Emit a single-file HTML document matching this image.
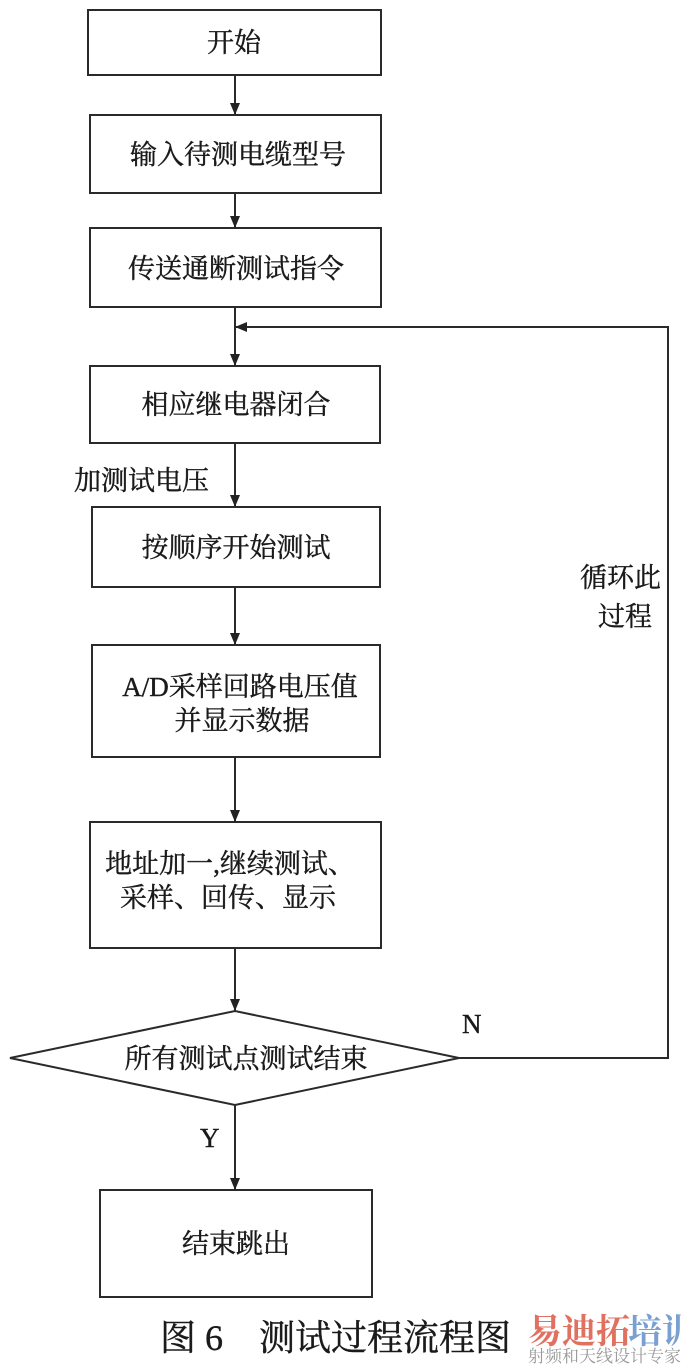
<!DOCTYPE html>
<html><head><meta charset="utf-8"><style>
html,body{margin:0;padding:0;background:#fff;}
svg{display:block}
text{font-family:"Liberation Serif","Noto Serif CJK SC","Noto Sans CJK SC",serif;fill:#1a1a1a;stroke:#1a1a1a;stroke-width:0.4;}
</style></head><body>
<svg width="681" height="1364" viewBox="0 0 681 1364" xmlns="http://www.w3.org/2000/svg">
<defs><marker id="a" markerWidth="12" markerHeight="10" refX="12" refY="5" orient="auto" markerUnits="userSpaceOnUse"><path d="M0,0 L12,5 L0,10 Z" fill="#222" stroke="none"/></marker></defs>
<g fill="none" stroke="#2a2a2a" stroke-width="2">
<rect x="88" y="10" width="293" height="65"/>
<rect x="90" y="115" width="291" height="78"/>
<rect x="90" y="228" width="291" height="79"/>
<rect x="90" y="366" width="290" height="77"/>
<rect x="92" y="507" width="288" height="80"/>
<rect x="92" y="645" width="288" height="112"/>
<rect x="90" y="822" width="291" height="126"/>
<polygon points="10,1058 235,1011 459,1058 235,1105"/>
<rect x="100" y="1190" width="272" height="107"/>
<line x1="235" y1="75" x2="235" y2="115" marker-end="url(#a)"/>
<line x1="235" y1="193" x2="235" y2="228" marker-end="url(#a)"/>
<line x1="235" y1="307" x2="235" y2="366" marker-end="url(#a)"/>
<line x1="235" y1="443" x2="235" y2="507" marker-end="url(#a)"/>
<line x1="235" y1="587" x2="235" y2="645" marker-end="url(#a)"/>
<line x1="235" y1="757" x2="235" y2="822" marker-end="url(#a)"/>
<line x1="235" y1="948" x2="235" y2="1011" marker-end="url(#a)"/>
<line x1="235" y1="1105" x2="235" y2="1190" marker-end="url(#a)"/>
<polyline points="459,1058 668,1058 668,327 235,327" marker-end="url(#a)"/>
</g>
<g font-size="27" text-anchor="middle">
<text x="234" y="52">开始</text>
<text x="238" y="164">输入待测电缆型号</text>
<text x="236" y="278">传送通断测试指令</text>
<text x="236" y="414">相应继电器闭合</text>
<text x="236" y="557">按顺序开始测试</text>
<text x="240" y="696">A/D采样回路电压值</text>
<text x="242" y="730">并显示数据</text>
<text x="230" y="873">地址加一,继续测试、</text>
<text x="228" y="907">采样、回传、显示</text>
<text x="246" y="1068">所有测试点测试结束</text>
<text x="236" y="1253">结束跳出</text>
</g>
<g font-size="27">
<text x="74" y="490">加测试电压</text>
<text x="580" y="587">循环此</text>
<text x="598" y="626">过程</text>
<text x="462" y="1033">N</text>
<text x="200" y="1147">Y</text>
<text x="160" y="1350" font-size="36">图 6　测试过程流程图</text>
</g>
<g font-family="Liberation Sans,Noto Sans CJK SC,sans-serif">
<text x="528" y="1343" font-size="34" font-weight="bold" style="fill:#e07060;stroke:none">易迪拓</text>
<text x="628" y="1343" font-size="34" font-weight="bold" style="fill:#7aa0d0;stroke:none">培训</text>
<text x="528" y="1362" font-size="17" style="fill:#999;stroke:none">射频和天线设计专家</text>
</g>
</svg>
</body></html>
